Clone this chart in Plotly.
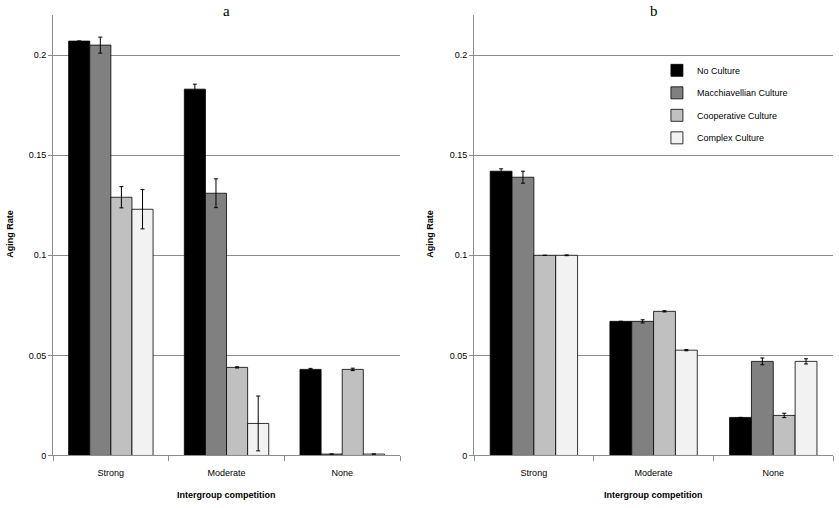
import plotly.graph_objects as go

categories = ["Strong", "Moderate", "None"]
series_names = ["No Culture", "Macchiavellian Culture", "Cooperative Culture", "Complex Culture"]
series_colors = ["#000000", "#808080", "#c0c0c0", "#f2f2f2"]

# Panel a
a_no_culture = [0.207, 0.183, 0.043]
a_no_culture_err = [0.0, 0.0025, 0.0005]
a_macchiavellian = [0.205, 0.131, 0.0007]
a_macchiavellian_err = [0.004, 0.0072, 0.0]
a_cooperative = [0.129, 0.044, 0.043]
a_cooperative_err = [0.0053, 0.0003, 0.0006]
a_complex = [0.123, 0.016, 0.0007]
a_complex_err = [0.0098, 0.0137, 0.0]

# Panel b
b_no_culture = [0.142, 0.067, 0.019]
b_no_culture_err = [0.0012, 0.0, 0.0]
b_macchiavellian = [0.139, 0.067, 0.047]
b_macchiavellian_err = [0.003, 0.0008, 0.0017]
b_cooperative = [0.100, 0.072, 0.020]
b_cooperative_err = [0.0, 0.0003, 0.0011]
b_complex = [0.100, 0.0526, 0.047]
b_complex_err = [0.0002, 0.0003, 0.0013]

y_tickvals = [0, 0.05, 0.1, 0.15, 0.2]
y_ticktext = ["0", "0.05", "0.1", "0.15", "0.2"]

panel_a = [(a_no_culture, a_no_culture_err), (a_macchiavellian, a_macchiavellian_err),
           (a_cooperative, a_cooperative_err), (a_complex, a_complex_err)]
panel_b = [(b_no_culture, b_no_culture_err), (b_macchiavellian, b_macchiavellian_err),
           (b_cooperative, b_cooperative_err), (b_complex, b_complex_err)]

fig = go.Figure()
for panel, xa, ya, show in [(panel_a, "x", "y", False), (panel_b, "x2", "y2", True)]:
    for i, (vals, errs) in enumerate(panel):
        fig.add_trace(go.Bar(
            x=categories, y=vals, name=series_names[i], xaxis=xa, yaxis=ya,
            marker=dict(color=series_colors[i], line=dict(color="#000000", width=0.8)),
            error_y=dict(type="data", array=errs, visible=True, color="#000000",
                         thickness=1, width=2),
            showlegend=show, legendgroup=series_names[i],
        ))

font_main = "Liberation Sans"
grid_col = "#8c8c8c"

def xaxis_cfg(domain, anchor):
    return dict(domain=domain, anchor=anchor, type="category", showline=True,
                linecolor=grid_col, linewidth=1, ticks="outside", tickson="boundaries",
                ticklen=5, tickcolor=grid_col, ticklabelstandoff=9,
                tickfont=dict(family=font_main, size=9, color="#000"),
                showgrid=False, fixedrange=True)

def yaxis_cfg(anchor):
    return dict(domain=[0.0945, 0.970], anchor=anchor, range=[0, 0.22],
                tickvals=y_tickvals, ticktext=y_ticktext, showline=True,
                linecolor=grid_col, linewidth=1, ticks="outside", ticklen=4, tickcolor=grid_col,
                showgrid=True, gridcolor=grid_col, gridwidth=1, zeroline=False,
                tickfont=dict(family=font_main, size=9, color="#000"))

fig.update_layout(
    width=839, height=508,
    margin=dict(l=0, r=0, t=0, b=0),
    paper_bgcolor="white", plot_bgcolor="white",
    barmode="group", bargap=0.27, bargroupgap=0,
    xaxis=xaxis_cfg([0.0632, 0.4768], "y"),
    yaxis=yaxis_cfg("x"),
    xaxis2=xaxis_cfg([0.565, 0.993], "y2"),
    yaxis2=yaxis_cfg("x2"),
    legend=dict(x=0.783, y=0.889, xanchor="left", yanchor="top",
                font=dict(family=font_main, size=9, color="#000"),
                traceorder="grouped", tracegroupgap=3.5, bgcolor="rgba(0,0,0,0)"),
    showlegend=True,
)

annots = []
for label, xc, xl in [("a", (0.0632 + 0.4768) / 2, 10 / 839), ("b", (0.565 + 0.993) / 2, 430 / 839)]:
    annots.append(dict(text=label, x=xc, y=1 - 11 / 508, xref="paper", yref="paper",
                       showarrow=False, xanchor="center", yanchor="middle",
                       font=dict(family="Liberation Serif", size=15, color="#000")))
    annots.append(dict(text="<b>Intergroup competition</b>", x=xc, y=1 - 500 / 508,
                       xref="paper", yref="paper", showarrow=False, xanchor="center",
                       yanchor="middle", font=dict(family=font_main, size=9, color="#000")))
    annots.append(dict(text="<b>Aging Rate</b>", x=xl, y=1 - 236 / 508, xref="paper",
                       yref="paper", showarrow=False, xanchor="center", yanchor="middle",
                       textangle=-90, font=dict(family=font_main, size=9, color="#000")))
fig.update_layout(annotations=annots)

fig.write_html("out.html", config={"displayModeBar": False},
               post_script="document.body.style.margin='0';")
